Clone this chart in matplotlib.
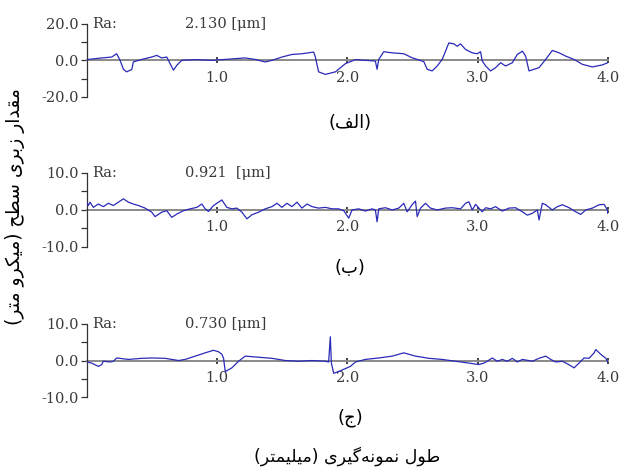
import matplotlib
matplotlib.use("Agg")
import matplotlib.pyplot as plt
from matplotlib.ticker import FixedLocator

# profile (a): Ra 2.130
x_a = [0.0, 0.010, 0.113, 0.190, 0.228, 0.254, 0.280, 0.305, 0.344, 0.356, 0.420, 0.497, 0.536,
       0.574, 0.613, 0.638, 0.664, 0.690, 0.728, 0.831, 0.959, 1.062, 1.138, 1.215, 1.292, 1.369,
       1.421, 1.497, 1.574, 1.651, 1.741, 1.754, 1.779, 1.831, 1.908, 1.985, 2.062, 2.138, 2.215,
       2.228, 2.241, 2.279, 2.344, 2.433, 2.497, 2.536, 2.587, 2.613, 2.651, 2.690, 2.728, 2.754,
       2.779, 2.818, 2.844, 2.869, 2.908, 2.959, 2.997, 3.023, 3.036, 3.062, 3.100, 3.138, 3.177,
       3.215, 3.267, 3.305, 3.344, 3.369, 3.395, 3.433, 3.472, 3.523, 3.574, 3.626, 3.677, 3.741,
       3.805, 3.882, 3.959, 4.0]
y_a = [0.3, 0.5, 1.3, 1.8, 3.6, 0.0, -4.9, -6.3, -5.0, -0.9, 0.5, 1.8, 2.7,
       1.3, 1.8, -1.8, -5.4, -2.7, 0.0, 0.4, 0.0, 0.5, 0.9, 1.3, 0.5, -0.9,
       0.0, 1.8, 3.2, 3.6, 4.5, 1.8, -6.3, -7.7, -6.3, -1.8, 0.4, 0.0, -0.4,
       -4.9, 0.5, 4.7, 4.1, 3.6, 1.4, 0.5, -0.7, -4.9, -5.8, -3.1, 0.5, 5.0,
       9.5, 9.0, 7.7, 9.0, 5.9, 4.1, 3.6, 4.7, -0.4, -3.1, -5.8, -4.0, -1.3,
       -3.1, -1.3, 3.2, 5.0, 2.3, -5.8, -4.9, -4.0, 0.5, 5.4, 4.1, 2.3, 0.5,
       -2.2, -3.6, -2.5, -1.3]

# profile (b): Ra 0.921
x_b = [0.0, 0.010, 0.023, 0.049, 0.087, 0.126, 0.164, 0.203, 0.241, 0.280, 0.318, 0.356, 0.395,
       0.446, 0.497, 0.523, 0.574, 0.613, 0.651, 0.690, 0.741, 0.792, 0.844, 0.882, 0.908, 0.933,
       0.972, 1.010, 1.036, 1.074, 1.113, 1.151, 1.190, 1.228, 1.267, 1.318, 1.369, 1.421, 1.459,
       1.497, 1.536, 1.574, 1.613, 1.651, 1.690, 1.728, 1.779, 1.831, 1.882, 1.933, 1.972, 2.010,
       2.036, 2.087, 2.138, 2.190, 2.215, 2.228, 2.241, 2.292, 2.344, 2.395, 2.433, 2.459, 2.497,
       2.523, 2.536, 2.562, 2.600, 2.638, 2.690, 2.754, 2.805, 2.869, 2.908, 2.933, 2.959, 2.985,
       3.010, 3.036, 3.062, 3.100, 3.138, 3.190, 3.241, 3.292, 3.344, 3.382, 3.421, 3.459, 3.472,
       3.497, 3.523, 3.574, 3.613, 3.651, 3.703, 3.754, 3.792, 3.831, 3.882, 3.933, 3.972, 3.997,
       4.0]
y_b = [2.0, 1.2, 2.1, 0.7, 1.6, 0.9, 1.8, 1.2, 2.1, 3.0, 2.1, 1.6, 1.2,
       0.5, -0.6, -1.8, -0.6, -0.2, -2.0, -1.1, -0.2, 0.3, 0.7, 1.6, 0.3, -0.4,
       1.2, 2.1, 2.7, 0.7, 0.3, 0.5, -0.6, -2.4, -1.3, -0.6, 0.3, 0.9, 1.8,
       0.7, 1.8, 0.9, 2.1, 0.5, 1.6, 0.9, 0.5, 0.7, 0.3, 0.3, -0.2, -2.2,
       0.0, 0.3, -0.3, 0.3, 0.0, -3.2, 0.3, 0.6, 0.0, 0.5, 1.8, -0.5, 1.4,
       2.4, -1.8, 0.5, 1.8, 0.5, 0.0, 0.5, 0.6, 0.3, 1.8, 2.2, 0.0, 1.5,
       0.5, -0.5, 0.6, 0.3, 0.9, -0.3, 0.5, 0.6, -0.5, -1.4, -0.9, 0.0, -2.7,
       1.8, 1.4, 0.0, 0.9, 1.4, 0.6, -0.5, -1.2, 0.0, 0.5, 1.4, 1.5, 0.0,
       -0.9]

# profile (c): Ra 0.730
x_c = [0.0, 0.036, 0.087, 0.113, 0.126, 0.177, 0.203, 0.228, 0.318, 0.420, 0.497, 0.600, 0.703,
       0.754, 0.831, 0.908, 0.972, 1.010, 1.036, 1.049, 1.062, 1.113, 1.164, 1.215, 1.318, 1.421,
       1.523, 1.626, 1.728, 1.831, 1.856, 1.869, 1.877, 1.895, 1.933, 1.985, 2.023, 2.062, 2.138,
       2.241, 2.344, 2.433, 2.523, 2.626, 2.728, 2.831, 2.933, 3.010, 3.049, 3.074, 3.113, 3.151,
       3.190, 3.228, 3.267, 3.305, 3.344, 3.421, 3.472, 3.523, 3.562, 3.600, 3.651, 3.690, 3.741,
       3.779, 3.818, 3.856, 3.895, 3.908, 3.946, 3.985, 4.0]
y_c = [-0.4, -0.7, -1.6, -1.1, -0.2, -0.4, -0.2, 0.7, 0.3, 0.6, 0.7, 0.6, 0.0,
       0.3, 1.2, 2.1, 2.8, 2.4, 1.7, 0.6, -3.0, -2.0, -0.2, 1.2, 0.9, 0.6,
       0.0, -0.2, 0.0, -0.2, -0.4, 6.5, -0.7, -3.5, -3.0, -2.2, -1.6, -0.4, 0.3,
       0.7, 1.2, 2.1, 1.2, 0.6, 0.3, -0.2, -0.7, -1.1, -0.7, -0.2, 0.7, -0.2,
       0.3, -0.2, 0.6, -0.4, 0.3, -0.2, 0.6, 1.2, 0.3, -0.4, -0.2, -0.9, -2.0,
       -0.7, 0.7, 0.6, 2.1, 3.0, 1.7, 0.6, -0.4]

ra_values = ["2.130 [\u03bcm]", "0.921  [\u03bcm]", "0.730 [\u03bcm]"]
y_limits = [20.0, 10.0, 10.0]
x_ticks = [1.0, 2.0, 3.0, 4.0]

# Persian labels written in visual order with Arabic presentation forms
panel_labels = [
    "(\ufed2\ufedf\ufe8d)",   # (الف)
    "(\ufe8f)",               # (ب)
    "(\ufe9d)",               # (ج)
]
x_label = ("(\ufeae\ufe98\ufee4\ufef4\ufee0\ufef4\ufee3) "
           "\ufeef\ufeae\ufef4\ufb94\ufeea\ufee7\ufeee\ufee4\ufee7 "
           "\ufedd\ufeee\ufec3")      # طول نمونه‌گیری (میلیمتر)
y_label = ("(\ufeae\ufe98\ufee3 \ufeed\ufeae\ufb91\ufef4\ufee3) "
           "\ufea2\ufec4\ufeb3 \ufeef\ufeae\ufe91\ufeaf "
           "\ufead\ufe8d\ufeaa\ufed8\ufee3")  # مقدار زبری سطح (میکرو متر)

profiles = [(x_a, y_a), (x_b, y_b), (x_c, y_c)]
axes_rects = [[0.1403, 0.796, 0.840, 0.154],
              [0.1403, 0.480, 0.840, 0.156],
              [0.1403, 0.164, 0.840, 0.154]]
label_y = [0.742, 0.436, 0.120]

serif = "DejaVu Serif"
fig = plt.figure(figsize=(6.2, 4.75), dpi=100)

for i, (xs, ys) in enumerate(profiles):
    ax = fig.add_axes(axes_rects[i])
    lim = y_limits[i]
    ax.plot(xs, ys, color="#2a2ab8", linewidth=0.9, zorder=3)
    ax.set_xlim(0, 4.0)
    ax.set_ylim(-lim, lim)

    ax.spines["top"].set_visible(False)
    ax.spines["right"].set_visible(False)
    ax.spines["bottom"].set_position(("data", 0))
    ax.spines["bottom"].set_color("#8a8a8a")
    ax.spines["bottom"].set_linewidth(1.4)
    ax.spines["bottom"].set_zorder(2)
    ax.spines["left"].set_color("#333333")
    ax.spines["left"].set_linewidth(0.9)

    ax.set_xticks(x_ticks)
    ax.set_xticklabels(["%.1f" % t for t in x_ticks], fontfamily=serif, fontsize=10.5,
                       color="#3a3a3a")
    ax.tick_params(axis="x", direction="inout", length=5, width=1.2, color="#222222", pad=5)

    ax.set_yticks([-lim, 0, lim])
    ax.set_yticklabels(["%.1f" % v for v in [-lim, 0, lim]], fontfamily=serif,
                       fontsize=10.5, color="#3a3a3a")
    ax.yaxis.set_minor_locator(FixedLocator([-lim / 2, lim / 2]))
    ax.tick_params(axis="y", which="major", direction="out", length=4, width=0.9,
                   color="#333333", pad=2)
    ax.tick_params(axis="y", which="minor", direction="out", length=4, width=0.9,
                   color="#333333")

    ax.text(0.01, 1.0, "Ra:", transform=ax.transAxes, fontfamily=serif, fontsize=10.5,
            color="#3a3a3a", va="center", ha="left")
    ax.text(0.188, 1.0, ra_values[i], transform=ax.transAxes, fontfamily=serif,
            fontsize=10.5, color="#3a3a3a", va="center", ha="left")

    fig.text(0.565, label_y[i], panel_labels[i], fontfamily=["DejaVu Sans"], fontsize=13,
             ha="center", va="center", color="black")

fig.text(0.56, 0.04, x_label, fontfamily=["DejaVu Sans"], fontsize=12.5,
         ha="center", va="center", color="black")
fig.text(0.025, 0.565, y_label, fontfamily=["DejaVu Sans"], fontsize=13.5, rotation=90,
         ha="center", va="center", color="black")

fig.savefig("out.png", dpi=100)
